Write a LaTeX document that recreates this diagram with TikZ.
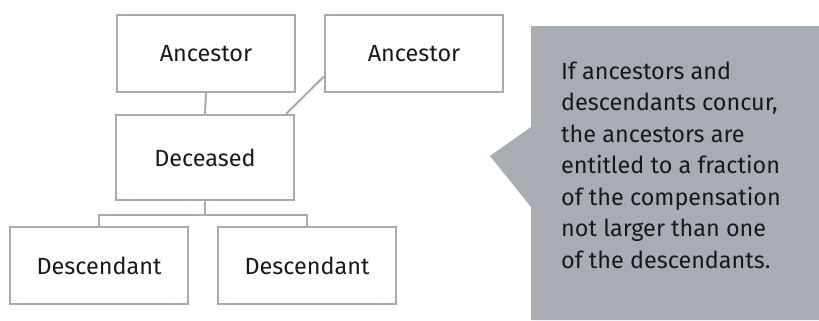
\documentclass[tikz,border=0pt]{standalone}
\usepackage{fontspec}
\setmainfont{Fira Sans}
\usetikzlibrary{calc}
\definecolor{linegray}{RGB}{166,171,176}
\definecolor{fillgray}{RGB}{167,173,179}
\definecolor{txt}{RGB}{25,25,25}
\begin{document}
\begin{tikzpicture}[x=1bp,y=-1bp,
  person/.style={draw=linegray,line width=2bp,minimum width=178bp,minimum height=77bp,inner sep=0pt,anchor=north west,font=\fontsize{23.5}{28}\selectfont,text=txt},
  link/.style={draw=linegray,line width=2bp}]
\useasboundingbox (0,0) rectangle (819,320);
\node[person] (a1) at (116,14) {Ancestor};
\node[person] (a2) at (324,14) {Ancestor};
\node[person,minimum height=85bp] (d) at (115,114) {Deceased};
\node[person] (c1) at (9,226) {Descendant};
\node[person] (c2) at (217,226) {Descendant};
\draw[link] (a1.south) -- (d.north);
\draw[link] ($(a2.south west)!0.21!(a2.north west)$) -- ($(d.north west)!0.95!(d.north east)$);
\coordinate (j) at ($(d.south)+(0,14)$);
\draw[link] (d.south) -- (j);
\draw[link] (c1.north) |- (j) -| (c2.north);
\fill[fillgray] (531,26) -- (819,26) -- (819,320) -- (531,320) -- (531,207) -- (490,156) -- (531,127) -- cycle;
\node[anchor=base west,inner sep=0pt,text=txt] (t) at (561,79.3)
{\parbox[t]{250bp}{\fontsize{23.5}{31.6}\selectfont\raggedright If ancestors and\\descendants concur,\\the ancestors are\\entitled to a fraction\\of the compensation\\not larger than one\\of the descendants.}};
\end{tikzpicture}
\end{document}
